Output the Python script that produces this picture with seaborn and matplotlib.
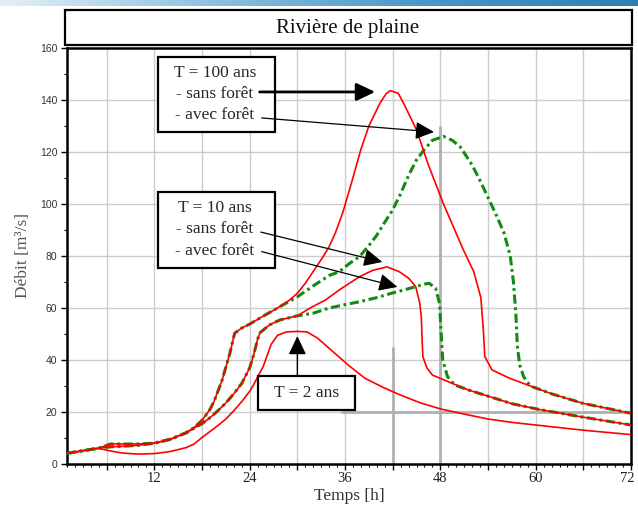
import numpy as np
import pandas as pd
import matplotlib
matplotlib.use("Agg")
import matplotlib.pyplot as plt
import matplotlib.transforms as mtrans
import seaborn as sns
from matplotlib.patches import Rectangle
from matplotlib.ticker import MultipleLocator, FuncFormatter
from matplotlib.colors import LinearSegmentedColormap

# ---------------- data ----------------
t2_x = [1, 3, 5, 6.5, 8, 10, 12, 14, 16, 17, 18, 19, 20, 21, 22, 23, 24, 24.5, 25, 25.7,
        26.7, 27.5, 28.6, 30, 31.2, 32.5, 34, 36.5, 38.5, 40.7, 43, 45.5, 48, 51, 54, 57,
        60, 66, 72]
t2_y = [4.1, 5.1, 6.0, 5.0, 4.2, 3.8, 4.0, 4.8, 6.3, 7.7, 10.2, 12.5, 14.8, 17.3, 20.5,
        24.0, 28.0, 30.5, 33.5, 37.5, 46.0, 49.5, 50.8, 51.0, 50.8, 48.5, 44.5, 37.8, 33.0,
        29.6, 26.5, 23.5, 21.2, 19.2, 17.3, 16.0, 15.0, 13.0, 11.3]

t10s_x = [1, 3, 5, 6.5, 8, 10, 12, 14, 16, 17, 18, 19, 20, 21, 22, 23, 24, 24.5, 25, 25.3,
          26.5, 27.8, 30, 31.9, 33.5, 35.3, 37.8, 39.5, 41.3, 42.8, 44, 44.9, 45.4, 45.6,
          45.7, 45.8, 46.3, 47, 49.5, 51.5, 54.2, 57, 60.4, 66, 72]
t10s_y = [4.1, 5.1, 6.1, 6.6, 6.8, 7.2, 8.0, 9.5, 12.0, 13.8, 15.5, 17.8, 20.5, 23.5, 27.0,
          31.0, 37.0, 42.0, 48.0, 50.5, 53.5, 55.4, 57.0, 60.5, 63.0, 67.0, 72.0, 74.5, 75.8,
          74.0, 71.5, 68.2, 62.0, 56.7, 48.0, 41.3, 37.0, 34.2, 31.0, 28.5, 25.9, 23.2, 21.0,
          18.0, 15.0]

t10a_x = [1, 3, 5, 6.5, 8, 10, 12, 14, 16, 17, 18, 19, 20, 21, 22, 23, 24, 24.5, 25, 25.3,
          26.5, 27.8, 30, 32, 34, 36, 37.8, 40, 42, 43.5, 44.9, 46, 46.6, 47.4, 47.9, 48.1,
          48.3, 48.9, 49.8, 51.5, 54.2, 57, 60.4, 66, 72]
t10a_y = [4.1, 5.1, 6.1, 6.6, 6.8, 7.2, 8.0, 9.5, 12.0, 13.8, 15.5, 17.8, 20.5, 23.5, 27.0,
          31.0, 37.0, 42.0, 48.0, 50.5, 53.5, 55.4, 57.0, 58.0, 60.0, 61.3, 62.4, 64.0, 65.8,
          67.0, 68.2, 69.2, 69.5, 67.6, 61.8, 50.3, 40.0, 33.6, 30.4, 28.5, 25.9, 23.2, 21.0,
          18.0, 15.0]

t100s_x = [1, 3, 5, 6.5, 8, 10, 12, 14, 16, 17, 18, 19, 19.5, 20.5, 21.5, 22.1, 23, 24,
           25.6, 27.5, 29, 30, 31, 32.4, 33.2, 34, 34.8, 35.7, 36.8, 38, 39, 40.4, 41.2,
           41.7, 42.7, 43.5, 45, 46.5, 48.4, 50.8, 52.2, 53.1, 53.4, 53.6, 54.5, 56.7, 59.6,
           62, 66, 72]
t100s_y = [4.1, 5.1, 6.1, 7.7, 7.7, 7.7, 8.0, 9.5, 12.0, 14.0, 16.8, 21.0, 24.0, 32.0,
           42.5, 50.3, 52.3, 53.8, 56.7, 60.0, 63.0, 65.7, 69.5, 75.9, 79.5, 83.6, 89.0,
           96.5, 108.0, 121.0, 130.0, 138.8, 142.5, 143.6, 142.6, 138.0, 128.5, 115.0, 100.0,
           83.0, 74.0, 64.0, 52.0, 41.3, 36.2, 33.0, 29.7, 27.0, 23.3, 19.5]

t100a_x = [1, 3, 5, 6.5, 8, 10, 12, 14, 16, 17, 18, 19, 19.5, 20.5, 21.5, 22.1, 23, 24,
           25.6, 27.5, 30, 32, 34, 35.3, 36.5, 37.8, 39, 40, 41, 42, 43, 44, 45, 46, 47,
           48.4, 49.5, 50.5, 52, 53, 54, 55, 56, 56.8, 57.2, 57.5, 57.7, 58, 58.5, 59.2,
           59.6, 62, 66, 72]
t100a_y = [4.1, 5.1, 6.1, 7.7, 7.7, 7.7, 8.0, 9.5, 12.0, 14.0, 16.8, 21.0, 24.0, 32.0,
           42.5, 50.3, 52.3, 53.8, 56.7, 60.0, 64.3, 68.5, 72.5, 74.0, 77.0, 79.7, 84.0,
           88.0, 93.0, 97.7, 104.0, 111.0, 117.0, 121.0, 124.5, 126.0, 124.5, 122.0, 115.0,
           109.0, 102.5, 96.0, 89.0, 80.0, 70.0, 58.0, 45.0, 38.0, 33.5, 30.5, 29.7, 27.0,
           23.3, 19.5]

x_ticks_labels = [12, 24, 36, 48, 60, 72]
y_ticks = [0, 20, 40, 60, 80, 100, 120, 140, 160]

title_text = "Rivière de plaine"
xlabel_text = "Temps [h]"
ylabel_text = "Débit [m³/s]"
box100 = "T = 100 ans\n- sans forêt\n- avec forêt"
box10 = "T = 10 ans\n- sans forêt\n- avec forêt"
box2 = "T = 2 ans"

# ---------------- figure ----------------
sns.set_theme(style="whitegrid")
plt.rcParams["font.family"] = ["Liberation Sans", "DejaVu Sans"]
serif = ["Liberation Serif", "DejaVu Serif"]

W, H = 638, 508
fig = plt.figure(figsize=(W / 100, H / 100), dpi=100)
fig.patch.set_facecolor("white")

def px2fig(x, y):
    return x / W, 1 - y / H

ax_l, ax_r, ax_t, ax_b = 67, 631, 48, 464
ax = fig.add_axes([ax_l / W, 1 - ax_b / H, (ax_r - ax_l) / W, (ax_b - ax_t) / H])
ax.set_facecolor("white")

# decorative top band
band = fig.add_axes([0, 1 - 6 / H, 1, 6 / H])
grad = np.linspace(0, 1, 256)[None, :]
cm = LinearSegmentedColormap.from_list("b", ["#e4f0f7", "#8cc0e0", "#4a97c8", "#2f7fb5"])
band.imshow(grad, aspect="auto", cmap=cm, extent=[0, 1, 0, 1])
band.axis("off")

green = "#138a13"
red = "#ff0000"

def mk(xs, ys):
    return pd.DataFrame({"t": xs, "q": ys})

dd = (3.0, 1.2, 0.9, 1.2)
for xs, ys in [(t10a_x, t10a_y), (t100a_x, t100a_y)]:
    sns.lineplot(data=mk(xs, ys), x="t", y="q", ax=ax, color=green, lw=2.2,
                 estimator=None, sort=False, zorder=3)
    ax.lines[-1].set_dashes(dd)
for xs, ys in [(t2_x, t2_y), (t10s_x, t10s_y), (t100s_x, t100s_y)]:
    sns.lineplot(data=mk(xs, ys), x="t", y="q", ax=ax, color=red, lw=1.2,
                 estimator=None, sort=False, zorder=4)

ax.set_xlim(1, 72)
ax.set_ylim(0, 160)

# grid / ticks
ax.xaxis.set_major_locator(MultipleLocator(6))
ax.xaxis.set_minor_locator(MultipleLocator(1))
ax.xaxis.set_major_formatter(FuncFormatter(
    lambda v, p: f"{int(round(v))}" if int(round(v)) in x_ticks_labels else ""))
ax.set_yticks(y_ticks)
ax.yaxis.set_minor_locator(MultipleLocator(10))
ax.grid(True, which="major", color="#cccccc", lw=1.0, zorder=0)
ax.grid(False, which="minor")
ax.set_axisbelow(True)
ax.tick_params(axis="both", which="major", direction="out", length=4, width=1.0,
               colors="black", bottom=True, left=True)
ax.tick_params(axis="both", which="minor", direction="out", length=2.5, width=0.8,
               colors="black", bottom=True, left=True)
ax.tick_params(axis="y", which="major", labelsize=7.5, labelcolor="#333333", pad=3)
ax.tick_params(axis="x", which="major", labelsize=10.5, labelcolor="#222222", pad=2)

fig.canvas.draw()
shift = mtrans.ScaledTranslation(-4 / 100, 0, fig.dpi_scale_trans)
for lab in ax.get_xticklabels():
    lab.set_family(serif)
    if lab.get_text() == "72":
        lab.set_transform(lab.get_transform() + shift)

# emphasised reference lines
ax.vlines(48, 0, 130, color="#b0b0b0", lw=2.0, zorder=1)
ax.vlines(42, 0, 45, color="#b0b0b0", lw=2.0, zorder=1)
ax.hlines(20, 35.5, 72, color="#b0b0b0", lw=2.0, zorder=1)

for s in ax.spines.values():
    s.set_color("black")
    s.set_linewidth(1.8)
    s.set_visible(True)

ax.set_xlabel(xlabel_text, family=serif, fontsize=12.5, color="#333333", labelpad=2)
ax.set_ylabel(ylabel_text, family=serif, fontsize=12.5, color="#555555", labelpad=6)

# title box
x0, y0 = px2fig(65, 45)
fig.patches.append(Rectangle((x0, y0), (632 - 65) / W, 35 / H, transform=fig.transFigure,
                             fc="white", ec="black", lw=1.6, zorder=5))
tx, ty = px2fig(348, 28)
fig.text(tx, ty, title_text, family=serif, fontsize=15, ha="center", va="center",
         color="#111111", zorder=6)

# annotation boxes (data coords)
def dbox(x1, y1, x2, y2):
    ax.add_patch(Rectangle((x1, y1), x2 - x1, y2 - y1, fc="white", ec="black", lw=1.6, zorder=6))

dbox(12.43, 127.7, 27.14, 156.5)
ax.text(19.6, 142.3, box100, family=serif, fontsize=12.5, ha="center", va="center",
        linespacing=1.42, zorder=7)
dbox(12.43, 75.4, 27.14, 104.6)
ax.text(19.6, 90.2, box10, family=serif, fontsize=12.5, ha="center", va="center",
        linespacing=1.42, zorder=7)
dbox(25.1, 20.8, 37.2, 33.8)
ax.text(31.15, 27.3, box2, family=serif, fontsize=12.5, ha="center", va="center", zorder=7)

def arrow(x1, y1, x2, y2, lw):
    ax.annotate("", xy=(x2, y2), xytext=(x1, y1),
                arrowprops=dict(arrowstyle="-|>,head_length=0.95,head_width=0.45",
                                color="black", lw=lw, shrinkA=0, shrinkB=0),
                zorder=8)

arrow(25.25, 143.1, 39.8, 143.1, 2.0)
arrow(25.5, 133.1, 47.2, 127.7, 0.9)
arrow(25.4, 89.2, 40.7, 77.7, 0.9)
arrow(25.5, 81.7, 42.6, 68.1, 0.9)
arrow(30.0, 33.8, 30.0, 49.2, 1.0)

fig.savefig("out.png", dpi=100)
